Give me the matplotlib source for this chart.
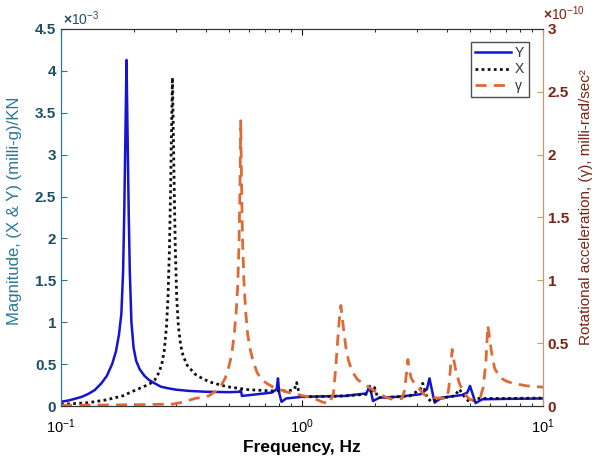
import numpy as np
import matplotlib
matplotlib.use("Agg")
import matplotlib.pyplot as plt
from matplotlib.ticker import FuncFormatter, LogLocator, NullFormatter

plt.rcParams['font.family'] = ['Liberation Sans', 'DejaVu Sans']
plt.rcParams['mathtext.fontset'] = 'custom'
plt.rcParams['mathtext.rm'] = 'Liberation Sans:bold'
plt.rcParams['mathtext.bf'] = 'Liberation Sans:bold'
plt.rcParams['mathtext.default'] = 'bf'

# Y response, magnitude in units of 1e-3 (milli-g)/KN
freq_y = [0.100, 0.107, 0.114, 0.122, 0.130, 0.138, 0.147, 0.155, 0.163, 0.169,
          0.174, 0.178, 0.181, 0.183, 0.185, 0.187, 0.189, 0.191, 0.193, 0.196,
          0.200, 0.205, 0.212, 0.222, 0.232, 0.245, 0.26, 0.28, 0.30, 0.34,
          0.40, 0.50, 0.552, 0.558, 0.563, 0.65, 0.75, 0.785, 0.795, 0.805,
          0.822, 0.86, 1.0, 1.5, 1.85, 1.91, 1.97, 2.1, 2.5, 3.1,
          3.3, 3.38, 3.55, 3.8, 4.6, 4.85, 4.98, 5.25, 5.6, 7.0,
          10.0]
mag_y = [0.05, 0.065, 0.085, 0.11, 0.145, 0.19, 0.27, 0.36, 0.5, 0.65,
         0.85, 1.1, 1.6, 2.3, 3.2, 4.13, 3.2, 2.3, 1.6, 1.0,
         0.7, 0.54, 0.44, 0.36, 0.31, 0.27, 0.23, 0.21, 0.195, 0.18,
         0.17, 0.165, 0.17, 0.19, 0.12, 0.14, 0.16, 0.2, 0.33, 0.15,
         0.05, 0.09, 0.11, 0.12, 0.15, 0.24, 0.06, 0.1, 0.11, 0.14,
         0.2, 0.33, 0.04, 0.1, 0.13, 0.16, 0.24, 0.035, 0.08, 0.085,
         0.09]

# X response, units of 1e-3
freq_x = [0.100, 0.115, 0.130, 0.152, 0.18, 0.20, 0.22, 0.235, 0.245, 0.255,
          0.262, 0.268, 0.274, 0.278, 0.282, 0.285, 0.288, 0.290, 0.292, 0.295,
          0.298, 0.302, 0.307, 0.314, 0.321, 0.335, 0.36, 0.39, 0.422, 0.46,
          0.49, 0.55, 0.6, 0.75, 0.88, 0.93, 0.95, 0.98, 1.05, 1.5,
          1.85, 1.95, 2.0, 2.06, 2.2, 2.8, 3.1, 3.17, 3.3, 3.45,
          3.7, 4.3, 4.5, 4.75, 4.95, 5.3, 7.0, 10.0]
mag_x = [0.02, 0.03, 0.04, 0.07, 0.12, 0.18, 0.23, 0.27, 0.31, 0.4,
         0.5, 0.65, 0.95, 1.3, 1.9, 2.6, 3.4, 3.92, 3.4, 2.6,
         1.9, 1.3, 0.95, 0.72, 0.6, 0.48, 0.38, 0.32, 0.28, 0.25,
         0.23, 0.21, 0.195, 0.18, 0.18, 0.2, 0.28, 0.11, 0.11, 0.12,
         0.14, 0.18, 0.22, 0.1, 0.1, 0.12, 0.2, 0.27, 0.1, 0.05,
         0.09, 0.12, 0.2, 0.1, 0.05, 0.09, 0.09, 0.095]

# gamma (rotational acceleration), units of 1e-10 milli-rad/sec^2
freq_g = [0.100, 0.2, 0.29, 0.32, 0.36, 0.41, 0.44, 0.464, 0.48, 0.495,
          0.51, 0.522, 0.532, 0.541, 0.548, 0.553, 0.557, 0.561, 0.566, 0.574,
          0.584, 0.595, 0.61, 0.626, 0.65, 0.68, 0.714, 0.76, 0.87, 0.98,
          1.11, 1.22, 1.30, 1.35, 1.38, 1.41, 1.43, 1.45, 1.47, 1.49,
          1.52, 1.56, 1.62, 1.70, 1.86, 2.03, 2.23, 2.4, 2.6, 2.66,
          2.71, 2.75, 2.79, 2.84, 2.95, 3.05, 3.22, 3.39, 3.85, 4.0,
          4.07, 4.13, 4.2, 4.27, 4.35, 4.5, 4.7, 4.98, 5.28, 5.5,
          5.65, 5.8, 5.9, 6.0, 6.1, 6.3, 6.6, 7.0, 7.5, 8.6,
          10.0]
mag_g = [0.005, 0.01, 0.015, 0.03, 0.06, 0.08, 0.12, 0.17, 0.22, 0.3,
         0.4, 0.55, 0.72, 0.95, 1.3, 1.75, 2.27, 1.8, 1.35, 1.0,
         0.75, 0.57, 0.45, 0.36, 0.27, 0.21, 0.18, 0.15, 0.11, 0.087,
         0.064, 0.03, 0.02, 0.1, 0.3, 0.55, 0.7, 0.8, 0.7, 0.6,
         0.47, 0.36, 0.27, 0.21, 0.16, 0.11, 0.07, 0.05, 0.06, 0.12,
         0.25, 0.37, 0.28, 0.22, 0.17, 0.14, 0.09, 0.07, 0.06, 0.06,
         0.15, 0.3, 0.45, 0.36, 0.28, 0.18, 0.1, 0.05, 0.05, 0.07,
         0.15, 0.36, 0.64, 0.55, 0.44, 0.3, 0.23, 0.2, 0.18, 0.16,
         0.15]

left_col = '#2b7896'
left_txt = '#1d4f68'
right_col = '#c99a6b'
right_txt = '#7a2412'

fig = plt.figure(figsize=(5.95, 4.63), dpi=100)
ax = fig.add_axes([0.1025, 0.1231, 0.8101, 0.8143])
ax2 = ax.twinx()

l1, = ax.plot(freq_y, mag_y, color='#1414d2', lw=1.8, label='Y')
l2, = ax.plot(freq_x, mag_x, color='#111111', lw=2.0, ls=(0, (1, 1.2)), label='X')
l3, = ax2.plot(freq_g, mag_g, color='#de6a35', lw=2.0, ls=(0, (4, 2.6)), label='γ')

ax.set_xscale('log')
ax.set_xlim(0.1, 10)
ax.set_ylim(0, 4.5)
ax2.set_ylim(0, 3)
ax.set_yticks(np.arange(0, 4.51, 0.5))
ax2.set_yticks(np.arange(0, 3.01, 0.5))
fmt = FuncFormatter(lambda v, p: f'{v:g}')
ax.yaxis.set_major_formatter(fmt)
ax2.yaxis.set_major_formatter(fmt)
ax.xaxis.set_major_locator(LogLocator(base=10, numticks=5))
ax.xaxis.set_minor_locator(LogLocator(base=10, subs=np.arange(2, 10), numticks=20))
ax.xaxis.set_minor_formatter(NullFormatter())

ax.tick_params(axis='x', which='both', direction='in', top=True, labelsize=10.5, pad=8)
ax.tick_params(axis='x', which='major', length=4)
ax.tick_params(axis='x', which='minor', length=2.5)
ax.tick_params(axis='y', direction='in', length=4, colors=left_col, labelcolor=left_txt, labelsize=11)
ax2.tick_params(axis='y', direction='in', length=4, colors=right_col, labelcolor=right_txt, labelsize=11)
for lab in ax.get_yticklabels() + ax2.get_yticklabels():
    lab.set_fontweight('bold')

for a in (ax, ax2):
    a.spines['top'].set_color('#333333')
    a.spines['bottom'].set_color('#333333')
    a.spines['left'].set_color(left_col)
    a.spines['right'].set_color(right_col)

ax.set_xlabel('Frequency, Hz', fontsize=12.5, fontweight='bold', labelpad=3)
ax.set_ylabel('Magnitude, (X & Y) (milli-g)/KN', fontsize=12, color=left_col)
ax.yaxis.set_label_coords(-0.08, 0.517)
ax2.set_ylabel('Rotational acceleration, (γ), milli-rad/sec²',
               fontsize=11, color=right_txt, rotation=90)
ax2.yaxis.set_label_coords(1.074, 0.528)

fig.text(0.106, 0.945, r'$\times\mathregular{10^{-3}}$', fontsize=10, color=left_txt)
fig.text(0.912, 0.957, r'$\times\mathregular{10^{-10}}$', fontsize=10, color=right_txt)

leg = ax2.legend(handles=[l1, l2, l3], loc='upper right', bbox_to_anchor=(0.97, 0.965),
                 fontsize=10, frameon=True, fancybox=False, edgecolor='#222222',
                 borderpad=0.3, labelspacing=0.15, handlelength=2.6, handletextpad=0.3,
                 borderaxespad=0)
leg.get_frame().set_linewidth(1.0)
for t in leg.get_texts():
    t.set_color('#333333')

fig.savefig('out.png', dpi=100)
